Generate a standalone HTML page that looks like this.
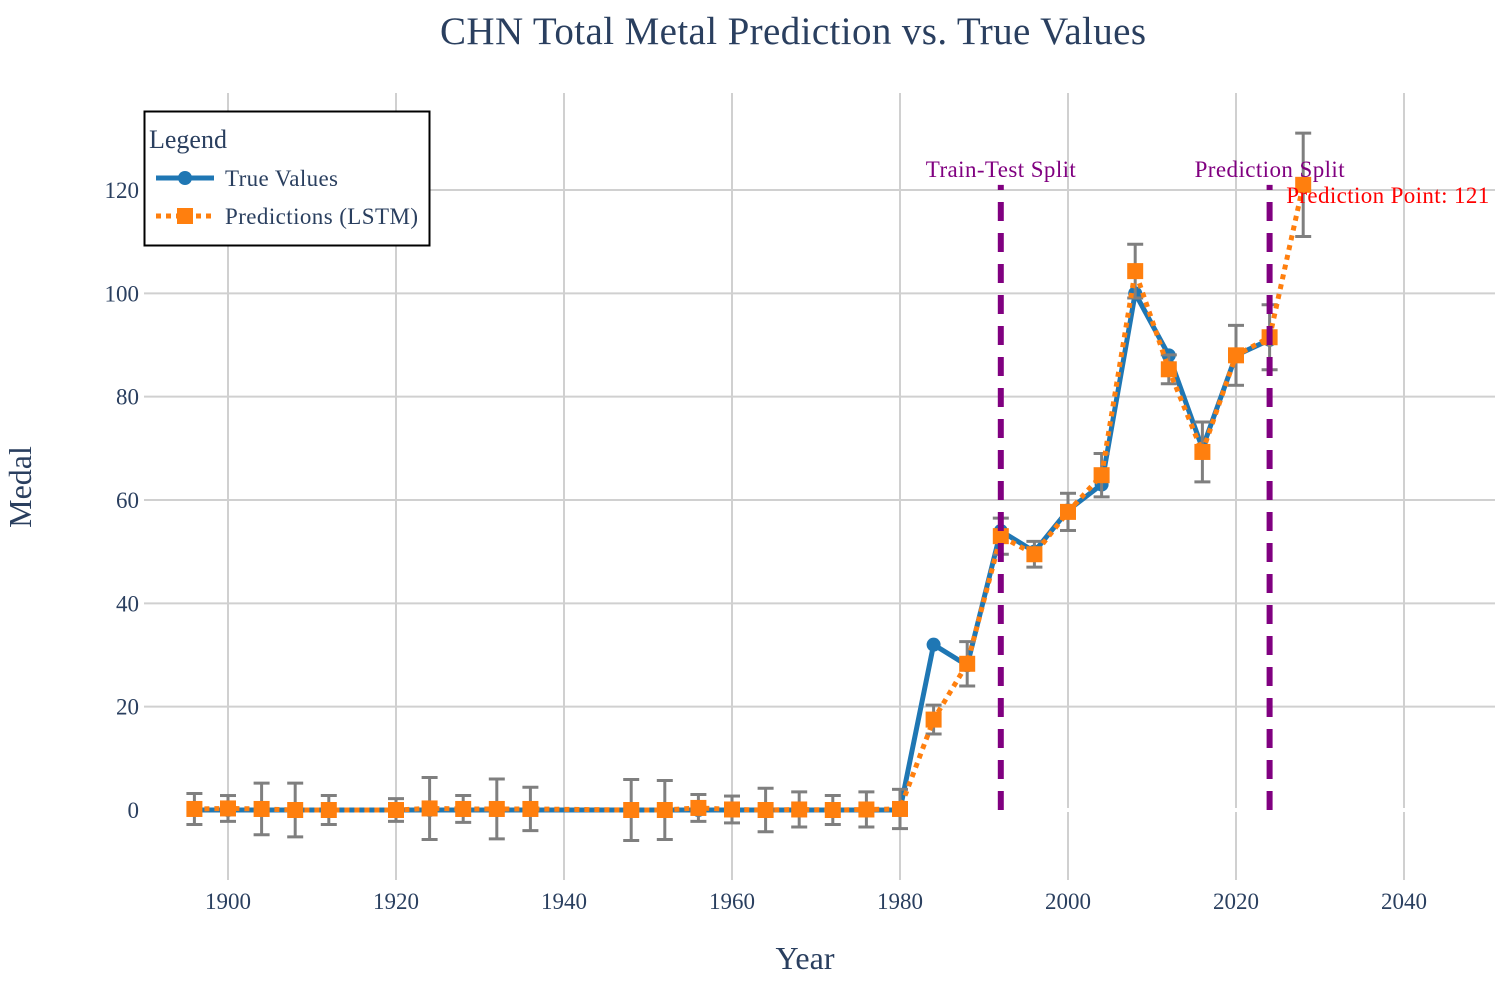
<!DOCTYPE html>
<html><head><meta charset="utf-8"><style>
body{margin:0;background:#fff;}
svg text{font-family:"Liberation Serif",serif;}
</style></head><body>
<svg id="chart" width="1509" height="980" xmlns="http://www.w3.org/2000/svg">
<rect width="1509" height="980" fill="#fff"/>
<g id="grid"></g><g id="marks"></g><g id="axes"></g>
<text x="793" y="44" text-anchor="middle" font-size="39" fill="#2a3f5f" textLength="706">CHN Total Metal Prediction vs. True Values</text>
<text x="805" y="969" text-anchor="middle" font-size="32" fill="#2a3f5f">Year</text>
<text transform="translate(31,487) rotate(-90)" text-anchor="middle" font-size="32" fill="#2a3f5f">Medal</text>
<g>
<rect x="144.5" y="111.5" width="285" height="134" fill="#fff" stroke="#000" stroke-width="2"/>
<text x="149" y="148" font-size="26" fill="#2a3f5f">Legend</text>
<line x1="156" y1="178" x2="214" y2="178" stroke="#1f77b4" stroke-width="5"/>
<circle cx="185" cy="178" r="7" fill="#1f77b4"/>
<text x="225" y="186" font-size="23" fill="#2a3f5f" textLength="113">True Values</text>
<line x1="156" y1="216" x2="214" y2="216" stroke="#ff7f0e" stroke-width="5" stroke-dasharray="5,5"/>
<rect x="177" y="208" width="16" height="16" fill="#ff7f0e"/>
<text x="225" y="224" font-size="23" fill="#2a3f5f" textLength="193">Predictions (LSTM)</text>
</g>
</svg>
<script>
const trueYears=[1896,1900,1904,1908,1912,1920,1924,1928,1932,1936,1948,1952,1956,1960,1964,1968,1972,1976,1980,1984,1988,1992,1996,2000,2004,2008,2012,2016,2020,2024];
const trueVals=[0,0,0,0,0,0,0,0,0,0,0,0,0,0,0,0,0,0,0,32,28,54,50,58,63,100,88,70,88,91];
const predYears=[1896,1900,1904,1908,1912,1920,1924,1928,1932,1936,1948,1952,1956,1960,1964,1968,1972,1976,1980,1984,1988,1992,1996,2000,2004,2008,2012,2016,2020,2024,2028];
const predVals=[0.2,0.3,0.2,0,0,0,0.3,0.2,0.2,0.2,0,0,0.4,0.1,0,0.1,0,0.1,0.2,17.5,28.3,53,49.5,57.7,64.8,104.3,85.3,69.3,88,91.5,121];
const predErr=[3,2.5,5,5.2,2.8,2.2,6,2.6,5.8,4.2,5.9,5.7,2.6,2.6,4.2,3.4,2.8,3.4,3.8,2.8,4.3,3.5,2.5,3.6,4.2,5.2,2.8,5.8,5.8,6.3,10];
const xTicks=[1900,1920,1940,1960,1980,2000,2020,2040];
const yTicks=[0,20,40,60,80,100,120];
const splitYears=[1992,2024];
const splitLabels=["Train-Test Split","Prediction Split"];
const splitTop=121;
const NS="http://www.w3.org/2000/svg";
const X=v=>228+(v-1900)*8.4, Y=v=>810-v*5.1667;
function mk(p,t,a){const e=document.createElementNS(NS,t);for(const k in a)e.setAttribute(k,a[k]);p.appendChild(e);return e;}
const grid=document.getElementById('grid'),marks=document.getElementById('marks'),axes=document.getElementById('axes');
xTicks.forEach(t=>{const l=mk(grid,'line',{x1:X(t),x2:X(t),y1:93,y2:880,stroke:'#d0d0d0','stroke-width':2});


const tx=mk(axes,'text',{x:X(t),y:909,'text-anchor':'middle','font-size':23,fill:'#2a3f5f'});tx.textContent=t;

});
const zl=mk(grid,'line',{x1:144,x2:1495,y1:Y(0),y2:Y(0),stroke:'#fff','stroke-width':4});


yTicks.forEach(t=>{if(t!==0){const l=mk(grid,'line',{x1:144,x2:1495,y1:Y(t),y2:Y(t),stroke:'#d0d0d0','stroke-width':2});

}
const tx=mk(axes,'text',{x:139,y:Y(t)+8,'text-anchor':'end','font-size':23,fill:'#2a3f5f'});tx.textContent=t;

});
const tl=mk(marks,'polyline',{points:trueYears.map((y,i)=>X(y)+','+Y(trueVals[i])).join(' '),fill:'none',stroke:'#1f77b4','stroke-width':5,'stroke-linejoin':'round'});


trueYears.forEach((y,i)=>{const c=mk(marks,'circle',{cx:X(y),cy:Y(trueVals[i]),r:7,fill:'#1f77b4'});

});
predYears.forEach((y,i)=>{const x=X(y),t=Y(predVals[i]+predErr[i]),b=Y(predVals[i]-predErr[i]);
const g=mk(marks,'g',{stroke:'#7f7f7f','stroke-width':3});


mk(g,'line',{x1:x,x2:x,y1:t,y2:b});mk(g,'line',{x1:x-8,x2:x+8,y1:t,y2:t});mk(g,'line',{x1:x-8,x2:x+8,y1:b,y2:b});});
const pl=mk(marks,'polyline',{points:predYears.map((y,i)=>X(y)+','+Y(predVals[i])).join(' '),fill:'none',stroke:'#ff7f0e','stroke-width':5,'stroke-dasharray':'5,5'});


predYears.forEach((y,i)=>{const r=mk(marks,'rect',{x:X(y)-8,y:Y(predVals[i])-8,width:16,height:16,fill:'#ff7f0e'});

});
splitYears.forEach((y,i)=>{const l=mk(marks,'line',{x1:X(y),x2:X(y),y1:Y(0),y2:Y(splitTop),stroke:'#800080','stroke-width':6,'stroke-dasharray':'19,12'});


const tx=mk(marks,'text',{x:X(y),y:177,'text-anchor':'middle','font-size':23,fill:'#800080',textLength:150});tx.textContent=splitLabels[i];

});
const last=predVals.length-1;
const ann=mk(marks,'text',{x:X(predYears[last])-17,y:Y(predVals[last])+18,'font-size':23,fill:'#ff0000',textLength:203});ann.textContent='Prediction Point: '+predVals[last];


</script>
</body></html>
